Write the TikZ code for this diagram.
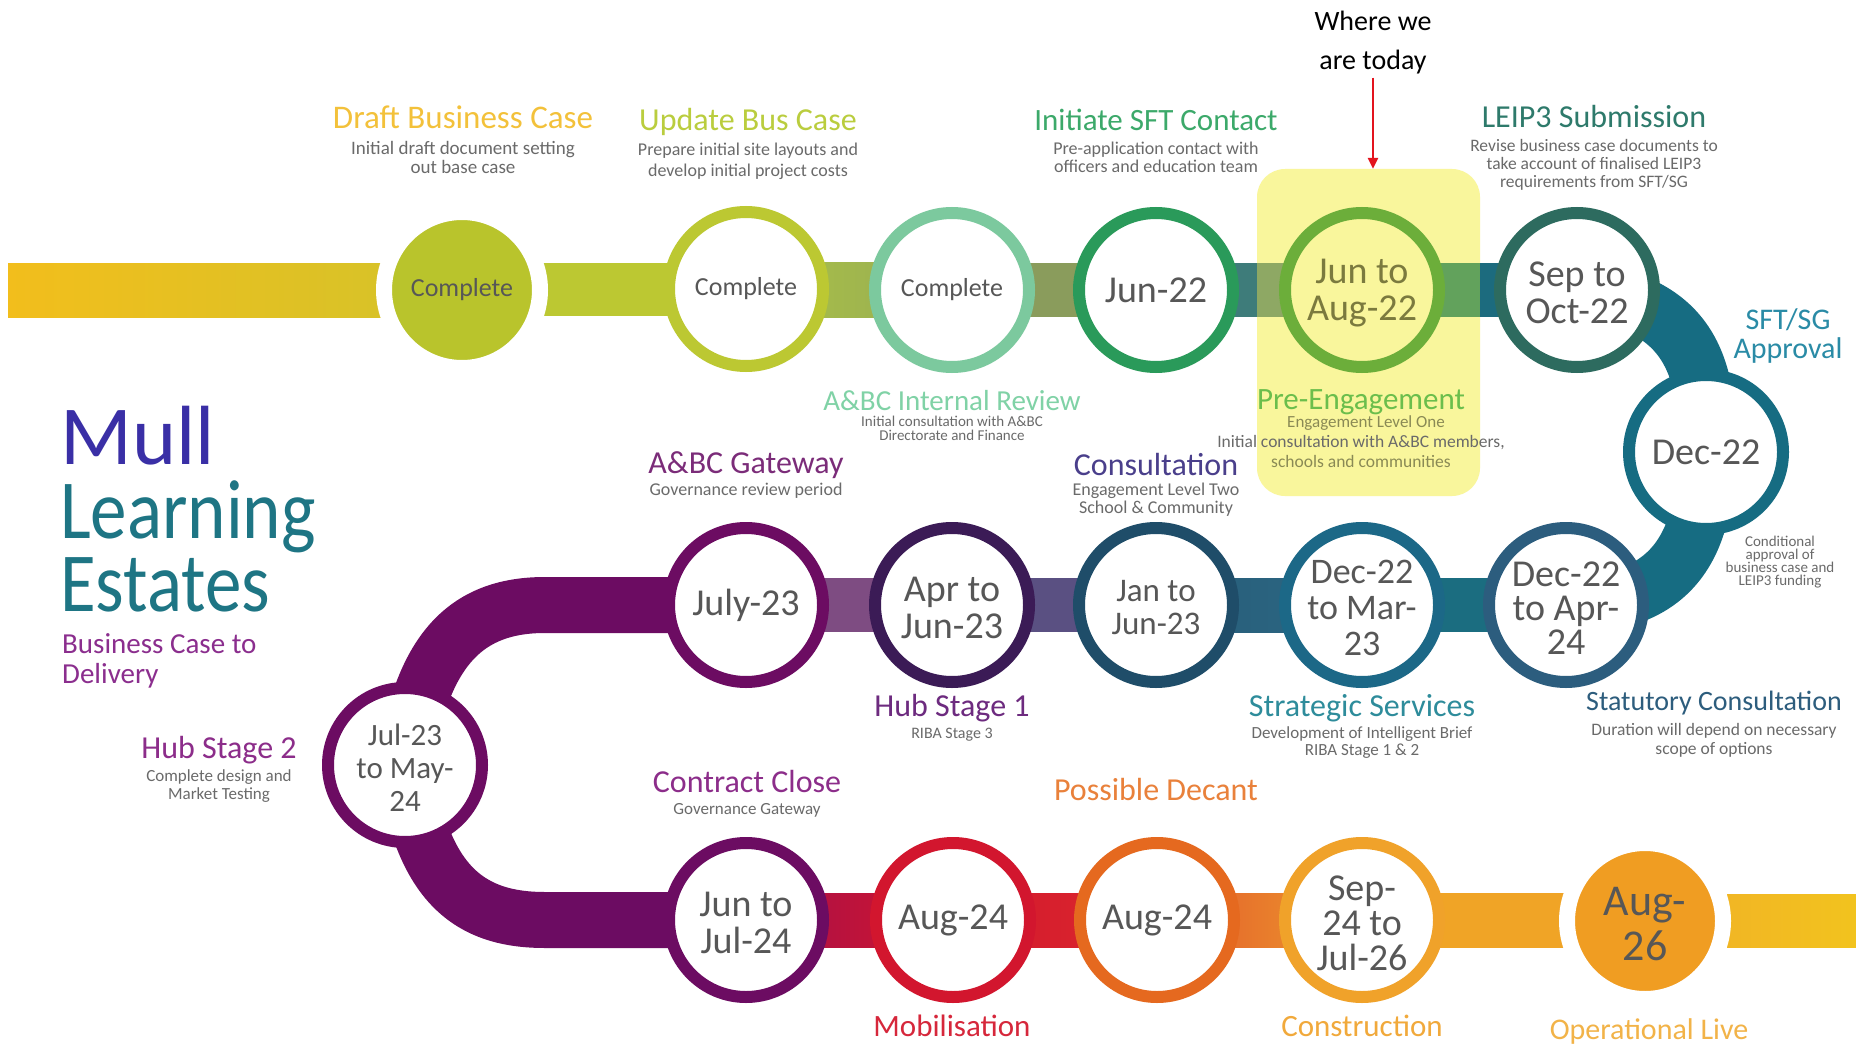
\documentclass[tikz,border=0pt]{standalone}
\usepackage{fontspec}
\setmainfont{Carlito}
\newfontfamily\titlecond{Carlito}[FakeStretch=0.87]
\usetikzlibrary{arrows.meta}
\pgfdeclarelayer{back}
\pgfdeclarelayer{bands}
\pgfsetlayers{back,bands,main}
% colours
\definecolor{bandYel}{HTML}{F2BE1C}
\definecolor{bandYel2}{HTML}{D3C32A}
\definecolor{limeA}{HTML}{B9C42C}
\definecolor{limeB}{HTML}{BCC832}
\definecolor{oliveA}{HTML}{ABC146}
\definecolor{oliveB}{HTML}{97AD54}
\definecolor{mint}{HTML}{7CC99E}
\definecolor{oliveC}{HTML}{8A9C5C}
\definecolor{greenD}{HTML}{2A9A5A}
\definecolor{tealG}{HTML}{3E7C7A}
\definecolor{oliveHL}{HTML}{8EA864}
\definecolor{greenHL}{HTML}{62A25C}
\definecolor{ringHL}{HTML}{6CAE3A}
\definecolor{tealA}{HTML}{1C6B7E}
\definecolor{ringCsix}{HTML}{2D6B5F}
\definecolor{sTeal}{HTML}{166C82}
\definecolor{ringDA}{HTML}{2C5D7E}
\definecolor{bandRa}{HTML}{1B6D80}
\definecolor{ringDM}{HTML}{1C6887}
\definecolor{bandRb}{HTML}{2B6884}
\definecolor{bandRbb}{HTML}{285C78}
\definecolor{ringJJ}{HTML}{1F4D69}
\definecolor{bandRc}{HTML}{5A5082}
\definecolor{ringAJ}{HTML}{3B1B56}
\definecolor{bandRd}{HTML}{7E4C82}
\definecolor{plum}{HTML}{6C0C62}
\definecolor{crimson}{HTML}{A50F4A}
\definecolor{redA}{HTML}{D2162E}
\definecolor{redB}{HTML}{DC2A2C}
\definecolor{orangeA}{HTML}{E5691F}
\definecolor{orangeC}{HTML}{E2582A}
\definecolor{orangeB}{HTML}{EE9C2E}
\definecolor{amber}{HTML}{F0A22A}
\definecolor{amberBand}{HTML}{F0A426}
\definecolor{amberFill}{HTML}{F09D22}
\definecolor{endA}{HTML}{F1AE28}
\definecolor{endB}{HTML}{F2C31E}
\definecolor{hilite}{HTML}{F9F69C}
\definecolor{dategray}{HTML}{575757}
\definecolor{descgray}{HTML}{6A6A6A}
\definecolor{hlText}{HTML}{7B7A3E}
\definecolor{hlgray}{HTML}{8A8A55}
\definecolor{arrowRed}{HTML}{E3141E}
\definecolor{cDraft}{HTML}{F3C13A}
\definecolor{cUpd}{HTML}{BACD3E}
\definecolor{cInit}{HTML}{3CA96A}
\definecolor{cLeip}{HTML}{2E7A6B}
\definecolor{cMint}{HTML}{80D2A6}
\definecolor{cPre}{HTML}{6BBE4C}
\definecolor{cSft}{HTML}{2A8BA6}
\definecolor{cGate}{HTML}{7B2C79}
\definecolor{cCons}{HTML}{4A3F8B}
\definecolor{cHubOne}{HTML}{6D2B7F}
\definecolor{cStrat}{HTML}{2E8C9B}
\definecolor{cStat}{HTML}{2D5D7D}
\definecolor{cHubTwo}{HTML}{8C2D8A}
\definecolor{cDecant}{HTML}{E9813B}
\definecolor{cMob}{HTML}{D6273B}
\definecolor{cCon}{HTML}{F1A93B}
\definecolor{cOp}{HTML}{F2B348}
\definecolor{cMull}{HTML}{3A2FA6}
\definecolor{cLearn}{HTML}{1E7584}
\definecolor{cBus}{HTML}{8B2E8E}
\begin{document}
\begin{tikzpicture}[x=1pt,y=-1pt,
  ring/.style={circle, draw=#1, line width=12pt, fill=white, minimum size=154pt, inner sep=0pt},
  dot/.style={circle, fill=#1, draw=white, line width=16pt, minimum size=156pt, inner sep=0pt},
  dt/.style={text=dategray, align=center, inner sep=0pt, font=\fontsize{38}{37}\selectfont},
  hdr/.style={inner sep=0pt, anchor=base, font=\fontsize{#1}{#1}\selectfont},
  hdr/.default=32,
  dsc/.style={inner sep=0pt, anchor=base, text=descgray, font=\fontsize{#1}{#1}\selectfont},
  dsc/.default=18,
  ttl/.style={inner sep=0pt, anchor=base west}
]
\useasboundingbox (0,0) rectangle (1856,1046);
\begin{pgfonlayer}{back}
\fill[white] (0,0) rectangle (1856,1046);
\node[fill=hilite, rounded corners=28pt, minimum width=223pt, minimum height=327pt, inner sep=0pt] (hl) at (1368.5,332.5) {};
\end{pgfonlayer}

% ---------- circles row 1
\node[dot=limeA] (c1) at (462,290) {};
\node[ring=limeB] (c2) at (746,289) {};
\node[ring=mint] (c3) at (952,290) {};
\node[ring=greenD] (c4) at (1156,290) {};
\node[ring=ringHL, fill=hilite] (c5) at (1362,290) {};
\node[ring=ringCsix] (c6) at (1577,290) {};
\node[ring=sTeal] (dec) at (1706,452) {};
% row 2
\node[ring=ringDA] (ra) at (1566,605) {};
\node[ring=ringDM] (rb) at (1362,605) {};
\node[ring=ringJJ] (rc) at (1156,605) {};
\node[ring=ringAJ] (rd) at (952,605) {};
\node[ring=plum] (re) at (746,605) {};
\node[ring=plum] (jm) at (405,765) {};
% row 3
\node[ring=plum] (sa) at (746,920) {};
\node[ring=redA] (sb) at (953,920) {};
\node[ring=orangeA] (sc) at (1157,920) {};
\node[ring=amber] (sd) at (1362,920) {};
\node[dot=amberFill] (se) at (1645,921) {};

% ---------- bands
\begin{pgfonlayer}{bands}
\coordinate (lend) at (8,290);
\coordinate (rend) at (1856,920);
\shade[left color=bandYel, right color=bandYel2] ([yshift=27pt]lend) rectangle ([yshift=-27pt]c1.center);
\fill[limeB] ([yshift=27pt]c1.center) rectangle ([yshift=-27pt]c2.center);
\shade[left color=oliveA, right color=oliveB] ([yshift=27pt]c2.center) rectangle ([yshift=-27pt]c3.center);
\fill[oliveC] ([yshift=27pt]c3.center) rectangle ([yshift=-27pt]c4.center);
\fill[tealG] ([yshift=27pt]c4.center) rectangle ([yshift=-27pt]hl.west |- c4.center);
\fill[oliveHL] ([yshift=27pt]hl.west |- c4.center) rectangle ([yshift=-27pt]c5.center);
\fill[greenHL] ([yshift=27pt]c5.center) rectangle ([yshift=-27pt]hl.east |- c5.center);
\fill[tealA] ([yshift=27pt]hl.east |- c5.center) rectangle ([yshift=-27pt]c6.center);
\draw[sTeal, line width=58pt] (c6.center) .. controls (1665,300) and (1712,340) .. (dec.center)
   .. controls (1706,560) and (1660,605) .. (ra.center);
\fill[bandRa] ([yshift=27pt]rb.center) rectangle ([yshift=-27pt]ra.center);
\shade[left color=bandRbb, right color=bandRb] ([yshift=27pt]rc.center) rectangle ([yshift=-27pt]rb.center);
\fill[bandRc] ([yshift=27pt]rd.center) rectangle ([yshift=-27pt]rc.center);
\fill[bandRd] ([yshift=27pt]re.center) rectangle ([yshift=-27pt]rd.center);
\draw[plum, line width=56pt] (re.center) -- (545,605) .. controls (470,605) and (422,645) .. (jm.center)
   .. controls (422,885) and (470,920) .. (545,920) -- (sa.center);
\shade[left color=crimson, right color=redA] ([yshift=27pt]sa.center) rectangle ([yshift=-27pt]sb.center);
\shade[left color=redA, right color=redB] ([yshift=27pt]sb.center) rectangle ([yshift=-27pt]sc.center);
\shade[left color=orangeC, right color=orangeB] ([yshift=27pt]sc.center) rectangle ([yshift=-27pt]sd.center);
\fill[amberBand] ([yshift=27pt]sd.center) rectangle ([yshift=-27pt]se.center);
\shade[left color=endA, right color=endB] ([yshift=27pt]se.center) rectangle ([yshift=-27pt]rend);
\end{pgfonlayer}

% ---------- circle texts
\node[dt, font=\fontsize{26}{26}\selectfont] (t-c1) at (c1) {Complete};
\node[dt, font=\fontsize{26}{26}\selectfont] (t-c2) at (c2) {Complete};
\node[dt, font=\fontsize{26}{26}\selectfont] (t-c3) at (c3) {Complete};
\node[dt] (t-c4) at (c4) {Jun-22};
\node[dt, text=hlText, yshift=-3pt] (t-c5) at (c5) {Jun to\\Aug-22};
\node[dt, yshift=-3pt] (t-c6) at (c6) {Sep to\\Oct-22};
\node[dt] (t-dec) at (dec) {Dec-22};
\node[dt, font=\fontsize{38}{34}\selectfont, yshift=-3pt] (t-ra) at (ra) {Dec-22\\to Apr-\\24};
\node[dt, font=\fontsize{36}{36}\selectfont, yshift=-3pt] (t-rb) at (rb) {Dec-22\\to Mar-\\23};
\node[dt, font=\fontsize{33}{33}\selectfont, yshift=-3pt] (t-rc) at (rc) {Jan to\\Jun-23};
\node[dt, yshift=-3pt] (t-rd) at (rd) {Apr to\\Jun-23};
\node[dt] (t-re) at (re) {July-23};
\node[dt, font=\fontsize{31}{33}\selectfont, yshift=-3pt] (t-jm) at (jm) {Jul-23\\to May-\\24};
\node[dt, yshift=-3pt] (t-sa) at (sa) {Jun to\\Jul-24};
\node[dt] (t-sb) at (sb) {Aug-24};
\node[dt] (t-sc) at (sc) {Aug-24};
\node[dt, font=\fontsize{38}{35}\selectfont, yshift=-3pt] (t-sd) at (sd) {Sep-\\24 to\\Jul-26};
\node[dt, font=\fontsize{44}{45}\selectfont, yshift=-3pt] (t-se) at (se) {Aug-\\26};

% ---------- where we are today
\node[inner sep=0pt, anchor=base, font=\fontsize{28}{28}\selectfont] (today1) at (1373,31) {Where we};
\node[inner sep=0pt, anchor=base, font=\fontsize{28}{28}\selectfont] (today2) at (1373,70) {are today};
\draw[arrowRed, line width=2.5pt, shorten <=3pt, -{Triangle[length=11pt,width=10pt]}] (today2.south) -- (today2.south |- hl.north);

% ---------- labels row 1 top
\node[hdr=33, text=cDraft] (h1) at (463,129) {Draft Business Case};
\node[dsc=19] (d1a) at (463,154) {Initial draft document setting};
\node[dsc=19] (d1b) at (463,174) {out base case};
\node[hdr=32, text=cUpd] (h2) at (748,131) {Update Bus Case};
\node[dsc] (d2a) at (748,156) {Prepare initial site layouts and};
\node[dsc] (d2b) at (748,176) {develop initial project costs};
\node[hdr=31, text=cInit] (h3) at (1156,131) {Initiate SFT Contact};
\node[dsc] (d3a) at (1156,154) {Pre-application contact with};
\node[dsc] (d3b) at (1156,173) {officers and education team};
\node[hdr=32, text=cLeip] (h4) at (1594,128) {LEIP3 Submission};
\node[dsc=17.5] (d4a) at (1594,152) {Revise business case documents to};
\node[dsc=17.5] (d4b) at (1594,170) {take account of finalised LEIP3};
\node[dsc=17.5] (d4c) at (1594,188) {requirements from SFT/SG};

% ---------- labels row 1 bottom
\node[hdr=29, text=cMint] (h5) at (952,410) {A\&BC Internal Review};
\node[dsc=15] (d5a) at (952,426) {Initial consultation with A\&BC};
\node[dsc=15] (d5b) at (952,440) {Directorate and Finance};
\node[hdr=31, text=cPre] (h6) at (1361,409) {Pre-Engagement};
\node[dsc=17, text=hlgray] (d6a) at (1366,427) {Engagement Level One};
\node[dsc=17.5] (d6b) at (1361,447) {Initial consultation with A\&BC members,};
\node[dsc=17.5, text=hlgray] (d6c) at (1361,467) {schools and communities};

% ---------- SFT/SG approval
\node[hdr=30, text=cSft] (h7a) at (1788,329) {SFT/SG};
\node[hdr=30, text=cSft] (h7b) at (1788,358) {Approval};
\node[dsc=15] (d7a) at (1780,546) {Conditional};
\node[dsc=15] (d7b) at (1780,559) {approval of};
\node[dsc=15] (d7c) at (1780,572) {business case and};
\node[dsc=15] (d7d) at (1780,585) {LEIP3 funding};

% ---------- row 2 labels
\node[hdr, text=cGate] (h8) at (746,473) {A\&BC Gateway};
\node[dsc] (d8) at (746,495) {Governance review period};
\node[hdr, text=cCons] (h9) at (1156,475) {Consultation};
\node[dsc] (d9a) at (1156,495) {Engagement Level Two};
\node[dsc] (d9b) at (1156,513) {School \& Community};
\node[hdr, text=cHubOne] (h10) at (952,716) {Hub Stage 1};
\node[dsc=16] (d10) at (952,738) {RIBA Stage 3};
\node[hdr, text=cStrat] (h11) at (1362,716) {Strategic Services};
\node[dsc=17] (d11a) at (1362,738) {Development of Intelligent Brief};
\node[dsc=17] (d11b) at (1362,755) {RIBA Stage 1 \& 2};
\node[hdr=28, text=cStat] (h12) at (1714,710) {Statutory Consultation};
\node[dsc=17.5] (d12a) at (1714,735) {Duration will depend on necessary};
\node[dsc=17.5] (d12b) at (1714,754) {scope of options};

% ---------- left / row 3 labels
\node[hdr, text=cHubTwo] (h13) at (219,758) {Hub Stage 2};
\node[dsc=17] (d13a) at (219,781) {Complete design and};
\node[dsc=17] (d13b) at (219,799) {Market Testing};
\node[hdr, text=cHubTwo] (h14) at (747,792) {Contract Close};
\node[dsc=17] (d14) at (747,814) {Governance Gateway};
\node[hdr, text=cDecant] (h15) at (1156,800) {Possible Decant};
\node[hdr=31, text=cMob] (h16) at (952,1036) {Mobilisation};
\node[hdr=31, text=cCon] (h17) at (1362,1036) {Construction};
\node[hdr=30, text=cOp] (h18) at (1649,1039) {Operational Live};

% ---------- title
\node[ttl, text=cMull, font=\fontsize{84}{84}\selectfont] (ti1) at (60,464) {Mull};
\node[ttl, text=cLearn, font=\titlecond\fontsize{84}{84}\selectfont] (ti2) at (60,538) {Learning};
\node[ttl, text=cLearn, font=\titlecond\fontsize{84}{84}\selectfont] (ti3) at (60,611) {Estates};
\node[ttl, text=cBus, font=\fontsize{29}{29}\selectfont] (ti4) at (62,653) {Business Case to};
\node[ttl, text=cBus, font=\fontsize{29}{29}\selectfont] (ti5) at (62,683) {Delivery};
\end{tikzpicture}
\end{document}
